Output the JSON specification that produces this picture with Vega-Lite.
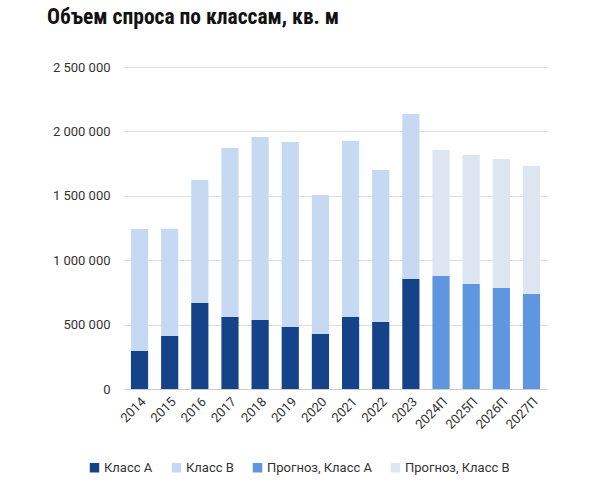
{
  "$schema": "https://vega.github.io/schema/vega-lite/v6.json",
  "width": 423,
  "height": 322,
  "autosize": {"type": "none"},
  "padding": {"left": 124, "top": 67, "right": 63, "bottom": 97},
  "background": "white",
  "title": {
    "text": "Объем спроса по классам, кв. м",
    "anchor": "start",
    "frame": "group",
    "dx": -77,
    "dy": -29,
    "font": "Roboto Condensed, Liberation Sans Narrow, DejaVu Sans Condensed, sans-serif",
    "fontSize": 21.5,
    "fontWeight": "bold",
    "color": "#111111"
  },
  "data": {
    "values": [
      {"year": "2014", "series": "Класс А", "value": 295000, "ord": 1},
      {"year": "2014", "series": "Класс В", "value": 947000, "ord": 2},
      {"year": "2015", "series": "Класс А", "value": 411000, "ord": 1},
      {"year": "2015", "series": "Класс В", "value": 834000, "ord": 2},
      {"year": "2016", "series": "Класс А", "value": 668000, "ord": 1},
      {"year": "2016", "series": "Класс В", "value": 955000, "ord": 2},
      {"year": "2017", "series": "Класс А", "value": 559000, "ord": 1},
      {"year": "2017", "series": "Класс В", "value": 1312000, "ord": 2},
      {"year": "2018", "series": "Класс А", "value": 536000, "ord": 1},
      {"year": "2018", "series": "Класс В", "value": 1421000, "ord": 2},
      {"year": "2019", "series": "Класс А", "value": 481000, "ord": 1},
      {"year": "2019", "series": "Класс В", "value": 1437000, "ord": 2},
      {"year": "2020", "series": "Класс А", "value": 427000, "ord": 1},
      {"year": "2020", "series": "Класс В", "value": 1079000, "ord": 2},
      {"year": "2021", "series": "Класс А", "value": 559000, "ord": 1},
      {"year": "2021", "series": "Класс В", "value": 1366000, "ord": 2},
      {"year": "2022", "series": "Класс А", "value": 520000, "ord": 1},
      {"year": "2022", "series": "Класс В", "value": 1180000, "ord": 2},
      {"year": "2023", "series": "Класс А", "value": 854000, "ord": 1},
      {"year": "2023", "series": "Класс В", "value": 1281000, "ord": 2},
      {"year": "2024П", "series": "Прогноз, Класс А", "value": 877000, "ord": 1},
      {"year": "2024П", "series": "Прогноз, Класс В", "value": 979000, "ord": 2},
      {"year": "2025П", "series": "Прогноз, Класс А", "value": 815000, "ord": 1},
      {"year": "2025П", "series": "Прогноз, Класс В", "value": 1002000, "ord": 2},
      {"year": "2026П", "series": "Прогноз, Класс А", "value": 784000, "ord": 1},
      {"year": "2026П", "series": "Прогноз, Класс В", "value": 1002000, "ord": 2},
      {"year": "2027П", "series": "Прогноз, Класс А", "value": 738000, "ord": 1},
      {"year": "2027П", "series": "Прогноз, Класс В", "value": 993000, "ord": 2}
    ]
  },
  "mark": {"type": "bar"},
  "encoding": {
    "x": {
      "field": "year",
      "type": "nominal",
      "sort": null,
      "scale": {"paddingInner": 0.43, "paddingOuter": 0.23},
      "axis": {
        "title": null,
        "labelAngle": -45,
        "labelFont": "Roboto",
        "labelFontSize": 13,
        "labelColor": "#333333",
        "domainColor": "#cccccc",
        "ticks": false,
        "labelPadding": 6
      }
    },
    "y": {
      "field": "value",
      "type": "quantitative",
      "stack": "zero",
      "scale": {"domain": [0, 2500000], "nice": false},
      "axis": {
        "title": null,
        "values": [0, 500000, 1000000, 1500000, 2000000, 2500000],
        "labelExpr": "replace(format(datum.value, ','), regexp(',', 'g'), ' ')",
        "labelFont": "Roboto",
        "labelFontSize": 13,
        "labelColor": "#333333",
        "domain": false,
        "ticks": false,
        "labelPadding": 14,
        "gridColor": "#dddddd"
      }
    },
    "color": {
      "field": "series",
      "type": "nominal",
      "scale": {
        "domain": ["Класс А", "Класс В", "Прогноз, Класс А", "Прогноз, Класс В"],
        "range": ["#15438a", "#c6d9f2", "#5f96e0", "#dde5f0"]
      },
      "legend": {
        "title": null,
        "orient": "none",
        "direction": "horizontal",
        "legendX": -36,
        "legendY": 394,
        "symbolType": "square",
        "symbolSize": 90,
        "symbolStrokeWidth": 0,
        "labelFont": "Roboto",
        "labelFontSize": 13,
        "labelColor": "#333333",
        "columnPadding": 17,
        "labelOffset": 3
      }
    },
    "order": {"field": "ord", "type": "quantitative"}
  },
  "config": {"view": {"stroke": null}}
}
